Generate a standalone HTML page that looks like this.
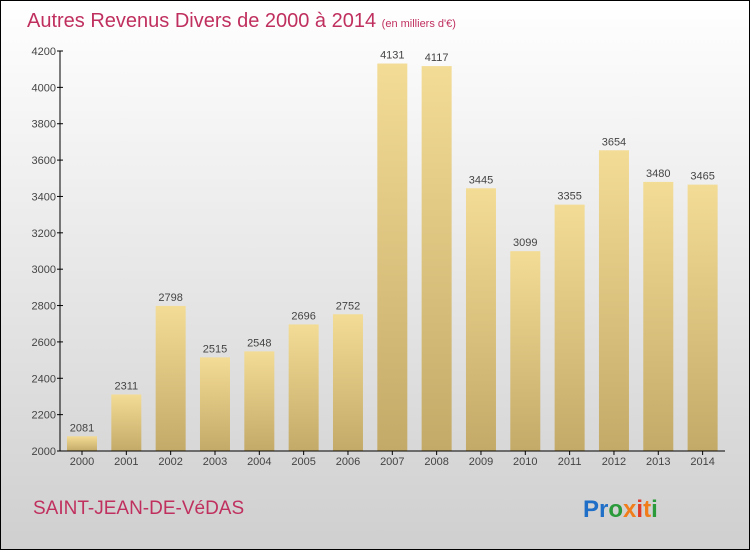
<!DOCTYPE html>
<html><head><meta charset="utf-8"><style>
html,body{margin:0;padding:0}
body{width:750px;height:550px;overflow:hidden;font-family:"Liberation Sans",sans-serif}
</style></head><body>
<svg id="chart" width="750" height="550" xmlns="http://www.w3.org/2000/svg">
<defs>
<linearGradient id="bg" x1="0" y1="0" x2="0" y2="1"><stop offset="0" stop-color="#ffffff"/><stop offset="1" stop-color="#cfcfcf"/></linearGradient>
<linearGradient id="bar" x1="0" y1="0" x2="0" y2="1"><stop offset="0" stop-color="#f3dc95"/><stop offset="1" stop-color="#c4aa68"/></linearGradient>
</defs>
<rect x="0.5" y="0.5" width="749" height="549" fill="url(#bg)" stroke="#000"/>
<text x="27" y="27" font-size="20" fill="#c0305f">Autres Revenus Divers de 2000 à 2014 <tspan font-size="11">(en milliers d'€)</tspan></text>
<g id="bars"></g>
<g id="axes"></g>
<text x="33" y="514" font-size="19" fill="#c0305f">SAINT-JEAN-DE-VéDAS</text>
<text x="583" y="517" font-size="24" font-weight="bold"><tspan fill="#1f6fc8">Pr</tspan><tspan fill="#2a9a3a">o</tspan><tspan fill="#f07d1a">x</tspan><tspan fill="#e03a2a">i</tspan><tspan fill="#f07d1a">t</tspan><tspan fill="#2a9a3a">i</tspan></text>
</svg>
<script>
const years=["2000","2001","2002","2003","2004","2005","2006","2007","2008","2009","2010","2011","2012","2013","2014"];
const values=[2081,2311,2798,2515,2548,2696,2752,4131,4117,3445,3099,3355,3654,3480,3465];
const yTicks=[2000,2200,2400,2600,2800,3000,3200,3400,3600,3800,4000,4200];
const NS="http://www.w3.org/2000/svg";
const y0=451,yMin=2000,yMax=4200,yTop=51;
function yS(v){return y0-(v-yMin)*(y0-yTop)/(yMax-yMin);}
function xS(i){return 67+i*44.33;}
function mk(tag,attrs,parent){const e=document.createElementNS(NS,tag);for(const k in attrs)e.setAttribute(k,attrs[k]);parent.appendChild(e);return e;}
const gb=document.getElementById('bars'),ga=document.getElementById('axes');
values.forEach((v,i)=>{
 const r=mk('rect',{x:xS(i),y:yS(v),width:30,height:y0-yS(v),fill:'url(#bar)'},gb);
 
 
 const t=mk('text',{x:xS(i)+15,y:yS(v)-5,'font-size':11,'text-anchor':'middle',fill:'#444'},gb);
 t.textContent=v;
 
 
 const xl=mk('text',{x:xS(i)+15,y:465,'font-size':11,'text-anchor':'middle',fill:'#444'},ga);
 xl.textContent=years[i];
 
 
 mk('line',{x1:xS(i)+15,x2:xS(i)+15,y1:y0,y2:y0+4,stroke:'#000'},ga);
});
const ax=mk('line',{x1:60,x2:60,y1:yTop,y2:y0,stroke:'#000'},ga);


const xa=mk('line',{x1:60,x2:725,y1:y0,y2:y0,stroke:'#000'},ga);


yTicks.forEach(v=>{
 mk('line',{x1:57,x2:63,y1:yS(v),y2:yS(v),stroke:'#000'},ga);
 const t=mk('text',{x:56,y:yS(v)+4,'font-size':11,'text-anchor':'end',fill:'#444'},ga);
 t.textContent=v;
 
 
});
</script>
</body></html>
